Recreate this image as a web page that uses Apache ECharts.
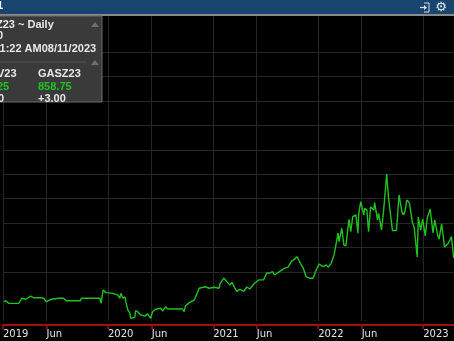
<!DOCTYPE html>
<html>
<head>
<meta charset="utf-8">
<script src="https://cdn.jsdelivr.net/npm/echarts@6/dist/echarts.min.js"></script>
<style>
    html, body { margin: 0; padding: 0; background: #000; }
    #chart { width: 454px; height: 341px; }
</style>
</head>
<body>
<div id="chart"></div>
<script>
var dates = [
    '2019-01-04','2019-01-11','2019-01-21','2019-02-25','2019-03-07','2019-03-21','2019-04-07','2019-04-17',
    '2019-05-12','2019-05-22','2019-06-01','2019-06-19','2019-07-13','2019-07-30','2019-08-09','2019-09-27',
    '2019-09-30','2019-12-04','2019-12-08','2019-12-15','2019-12-25',
    '2020-01-18','2020-02-05','2020-02-11','2020-02-15','2020-02-22','2020-02-29','2020-03-03','2020-03-10',
    '2020-03-17','2020-03-20','2020-04-03','2020-04-06','2020-04-13','2020-04-24','2020-05-08','2020-05-18',
    '2020-05-28','2020-06-04','2020-06-14','2020-07-02','2020-07-09','2020-07-19','2020-07-26','2020-09-16',
    '2020-09-22','2020-09-26','2020-10-10','2020-10-13','2020-10-27','2020-11-06','2020-11-13','2020-12-04',
    '2020-12-18',
    '2021-01-04','2021-01-21','2021-01-25','2021-02-07','2021-02-18','2021-02-28','2021-03-07','2021-03-17',
    '2021-03-24','2021-04-03','2021-04-17','2021-04-28','2021-05-08','2021-05-22','2021-06-08','2021-06-25',
    '2021-07-06','2021-07-16','2021-07-26','2021-08-02','2021-08-19','2021-09-05','2021-09-19','2021-09-30',
    '2021-10-10','2021-10-20','2021-10-27','2021-11-03','2021-11-10','2021-11-20','2021-12-01','2021-12-14',
    '2021-12-25',
    '2022-01-04','2022-01-18','2022-01-29','2022-02-04','2022-02-14','2022-02-25','2022-03-11','2022-03-14',
    '2022-03-24','2022-03-31','2022-04-07','2022-04-18','2022-04-24','2022-05-01','2022-05-12','2022-05-19',
    '2022-05-22','2022-05-29','2022-06-08','2022-06-12','2022-06-19','2022-06-25','2022-07-02','2022-07-13',
    '2022-07-16','2022-07-26','2022-07-30','2022-08-09','2022-08-16','2022-08-27','2022-09-02','2022-09-09',
    '2022-09-16','2022-09-30','2022-10-09','2022-10-19','2022-10-24','2022-10-29','2022-11-05','2022-11-14',
    '2022-11-24','2022-12-01','2022-12-11','2022-12-15','2022-12-23','2022-12-30',
    '2023-01-08','2023-01-15','2023-01-25','2023-02-04','2023-02-10','2023-02-20','2023-02-25','2023-03-06',
    '2023-03-16','2023-03-30','2023-04-09','2023-04-17'
];

var prices = [
    378, 383, 372, 372, 393, 389, 402, 395,
    395, 393, 379, 389, 393, 393, 383, 383,
    393, 393, 372, 427, 416,
    413, 406, 393, 413, 393, 399, 379, 345,
    333, 311, 315, 342, 338, 325, 320, 329,
    311, 338, 348, 352, 341, 358, 349, 349,
    338, 361, 375, 372, 386, 413, 434, 440,
    434,
    438, 434, 454, 475, 460, 447, 458, 434,
    421, 429, 421, 439, 431, 451, 468, 468,
    496, 496, 502, 488, 502, 515, 521, 545,
    552, 563, 545, 529, 516, 481, 475, 475,
    509,
    533, 522, 529, 520, 533, 570, 659, 624,
    679, 611, 607, 716, 665, 727, 734, 659,
    740, 788, 734, 761, 754, 665, 767, 754,
    784, 713, 740, 672, 747, 901, 808, 738,
    670, 670, 815, 746, 734, 746, 795, 783,
    705, 680, 562, 725, 672, 717,
    648, 721, 758, 660, 713, 652, 635, 697,
    603, 619, 645, 558
];

var tick_dates = ['2019-01-01','2019-06-01','2020-01-01','2020-06-01','2021-01-01','2021-06-01','2022-01-01','2022-06-01','2023-01-01'];
var tick_labels = ['2019','Jun','2020','Jun','2021','Jun','2022','Jun','2023'];

var grid_color = '#262626';
var green = '#1fc21f';
var hidden = 'rgba(0,0,0,0)';

function to_time(d) {
    return echarts.time.parse(d).getTime();
}

function header_graphics() {
    var font = 'bold 11px "Liberation Sans"';
    var txt = function (s, x, y, color) {
        return {
            type: 'text', x: x, y: y, z: 20,
            style: { text: s, fill: color || '#e8e8e8', font: font, verticalAlign: 'middle' }
        };
    };
    return [
        // title bar
        { type: 'rect', z: 10, shape: { x: 0, y: 0, width: 454, height: 14 }, style: { fill: '#174570' } },
        { type: 'rect', z: 10, shape: { x: 0, y: 14, width: 454, height: 2 }, style: { fill: '#8a8a8a' } },
        { type: 'text', x: -3, y: 6, z: 20, style: { text: '1', fill: '#ffffff', font: font, verticalAlign: 'middle' } },
        { type: 'polyline', z: 20, shape: { points: [[424, 3], [429, 3], [429, 12], [424, 12]] },
          style: { stroke: '#d6dde4', lineWidth: 1, fill: null } },
        { type: 'polyline', z: 20, shape: { points: [[420, 7.5], [426, 7.5]] },
          style: { stroke: '#d6dde4', lineWidth: 1.2, fill: null } },
        { type: 'polygon', z: 20, shape: { points: [[424, 5], [427, 7.5], [424, 10]] }, style: { fill: '#d6dde4' } },
        { type: 'text', x: 441, y: 7.5, z: 20,
          style: { text: '\u2699', fill: '#e2e6ea', font: '13px "DejaVu Sans"', align: 'center', verticalAlign: 'middle' } },

        // info box
        { type: 'rect', z: 10, shape: { x: -2, y: 16, width: 104, height: 86 },
          style: { fill: '#3a3a3a', stroke: '#6c6c6c', lineWidth: 1 } },
        { type: 'polygon', z: 20, shape: { points: [[91, 27], [95, 22], [99, 27]] }, style: { fill: '#6f6f6f' } },
        { type: 'line', z: 20, shape: { x1: 0, y1: 62, x2: 86, y2: 62 }, style: { stroke: '#555555', lineWidth: 1 } },
        { type: 'polygon', z: 20, shape: { points: [[91, 65], [95, 60], [99, 65]] }, style: { fill: '#6f6f6f' } },
        txt('Z23 ~ Daily', -4, 24.5),
        txt('0', -3, 36),
        txt('11:22 AM08/11/2023', -6, 49),
        txt('V23', -3, 74),
        txt('GASZ23', 38, 74),
        txt('25', -3, 87, green),
        txt('858.75', 38, 87, green),
        txt('0', -2, 99),
        txt('+3.00', 38, 99)
    ];
}

function set_chart() {
    var chart = echarts.init(document.getElementById('chart'), null, { renderer: 'canvas' });
    var series_data = dates.map(function (d, i) { return [to_time(d), prices[i]]; });
    var ticks = tick_dates.map(to_time);

    var option = {
        backgroundColor: '#000000',
        animation: false,
        grid: { left: -1, right: 0, top: 16, bottom: 20 },
        xAxis: {
            type: 'value',
            min: to_time('2019-01-01'),
            max: to_time('2023-04-18'),
            offset: 4,
            axisLine: { show: true, lineStyle: { color: '#a30f0f', width: 2 } },
            axisTick: { show: true, length: 4, customValues: ticks, lineStyle: { color: '#a30f0f', width: 1.5 } },
            axisLabel: {
                customValues: ticks,
                align: 'left',
                margin: 4,
                color: '#e4e4e4',
                fontFamily: 'DejaVu Sans',
                fontSize: 10,
                formatter: function (value) {
                    var idx = ticks.indexOf(value);
                    return idx >= 0 ? tick_labels[idx] : '';
                }
            },
            splitLine: { show: true, lineStyle: { color: grid_color, width: 1 } }
        },
        yAxis: {
            type: 'value',
            min: 300,
            max: 1547,
            interval: 100,
            axisLine: { show: false },
            axisTick: { show: false },
            axisLabel: { show: false },
            splitLine: {
                show: true,
                showMinLine: false,
                showMaxLine: false,
                lineStyle: {
                    width: 1,
                    color: [hidden, grid_color, grid_color, grid_color, grid_color, grid_color,
                            grid_color, grid_color, grid_color, grid_color, grid_color, hidden, hidden]
                }
            }
        },
        series: [
            {
                name: 'GAS',
                type: 'line',
                data: series_data,
                showSymbol: false,
                smooth: false,
                lineStyle: { color: green, width: 1.4 },
                z: 3
            }
        ],
        graphic: header_graphics()
    };

    chart.setOption(option);
}

set_chart();
</script>
</body>
</html>
